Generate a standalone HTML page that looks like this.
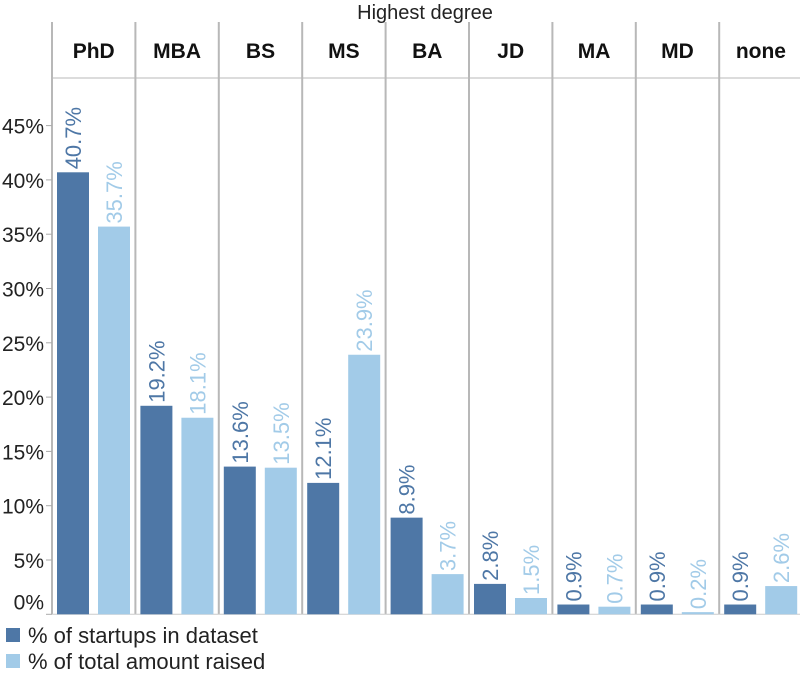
<!DOCTYPE html>
<html><head><meta charset="utf-8"><style>
body{margin:0;background:#fff;font-family:"Liberation Sans",Arial,sans-serif;}
svg{display:block}
</style></head><body>
<svg id="chart" width="800" height="675">
<text x="425" y="19" font-size="20" text-anchor="middle" fill="#222">Highest degree</text>
<g id="grid"></g><g id="bars"></g><g id="yaxis"></g>
<g>
<rect x="6" y="628" width="14" height="14" fill="#4e77a6"></rect>
<text x="28" y="643" font-size="22" fill="#222">% of startups in dataset</text>
<rect x="6" y="654" width="14" height="14" fill="#a2cbe8"></rect>
<text x="28" y="669" font-size="22" fill="#222">% of total amount raised</text>
</g>
</svg>
<script>
const categories=["PhD","MBA","BS","MS","BA","JD","MA","MD","none"];
const startups=[40.7,19.2,13.6,12.1,8.9,2.8,0.9,0.9,0.9];
const raised=[35.7,18.1,13.5,23.9,3.7,1.5,0.7,0.2,2.6];
const yTicks=[0,5,10,15,20,25,30,35,40,45];
const NS="http://www.w3.org/2000/svg";
const x0=52,colW=83.4,y0=614.3,pxPer=10.86;
const y=v=>y0-v*pxPer;
const colX=i=>x0+i*colW;
function mk(t,a,p){const e=document.createElementNS(NS,t);for(const k in a)e.setAttribute(k,a[k]);p.appendChild(e);return e;}
const grid=document.getElementById('grid'),bars=document.getElementById('bars'),ya=document.getElementById('yaxis');
let hl=mk('line',{x1:x0,x2:800,y1:78,y2:78,stroke:'#d0d0d0','stroke-width':1.5},grid);


for(let i=0;i<=categories.length;i++){
  const l=mk('line',{x1:colX(i),x2:colX(i),y1:22,y2:614,stroke:'#b8b8b8','stroke-width':2},grid);
  
  
}
const bl=mk('line',{x1:x0,x2:800,y1:y0,y2:y0,stroke:'#ccc','stroke-width':1},grid);


categories.forEach((c,i)=>{
  const cx=colX(i);
  const h=mk('text',{x:cx+colW/2,y:58,'font-size':21,'font-weight':'bold','text-anchor':'middle',fill:'#111'},grid);
  h.textContent=c;
  
  
  [[startups[i],5,'#4e77a6','#4e77a6','startups'],[raised[i],46,'#a2cbe8','#a2cbe8','raised']].forEach(([v,off,fill,tc,nm])=>{
    const bx=cx+off,bw=32;
    const r=mk('rect',{x:bx,y:y(v),width:bw,height:y0-y(v),fill:fill},bars);
    
    
    const tx=bx+bw/2+8,ty=y(v)-3;
    const t=mk('text',{x:tx,y:ty,'font-size':22,fill:tc,transform:`rotate(-90 ${tx} ${ty})`},bars);
    t.textContent=v.toFixed(1)+'%';
    
    
  });
});
yTicks.forEach(v=>{
  const tk=mk('line',{x1:46,x2:52,y1:y(v),y2:y(v),stroke:'#aaa','stroke-width':1},ya);
  
  
  const ty=v===0?y(v)-5:y(v)+8;
  const t=mk('text',{x:44,y:ty,'font-size':21,'text-anchor':'end',fill:'#222'},ya);
  t.textContent=v+'%';
  
  
});
</script>
</body></html>
